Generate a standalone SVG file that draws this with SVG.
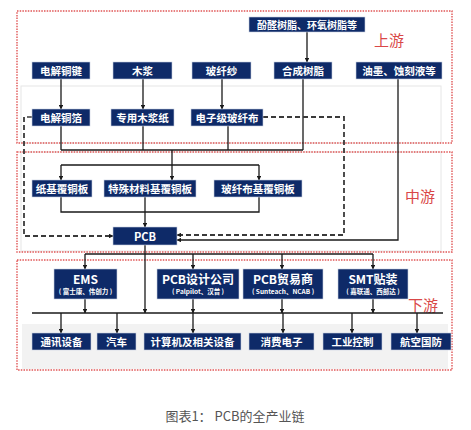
<svg xmlns="http://www.w3.org/2000/svg" width="471" height="430" viewBox="0 0 471 430">
<style>
.frame{fill:none;stroke:#e05555;stroke-width:1.4;stroke-dasharray:1.5 1.2}
.panel{fill:none;stroke:#e6e6e6;stroke-width:1}
.box{fill:#0e2a68;stroke:#c8cfe0;stroke-width:0.6}
.t{font-family:"Noto Sans CJK SC","Noto Sans",sans-serif;font-weight:bold;fill:#fff;text-anchor:middle;dominant-baseline:central;font-size:10.5px}
.t2{font-family:"Noto Sans CJK SC","Noto Sans",sans-serif;font-weight:bold;fill:#fff;text-anchor:middle;font-size:12px}
.s{font-family:"Noto Sans CJK SC","Noto Sans",sans-serif;font-weight:bold;fill:#fff;text-anchor:middle;font-size:6.5px}
.lab{font-family:"Noto Sans CJK SC",sans-serif;fill:#d94848;font-size:15px;text-anchor:middle;dominant-baseline:central}
.ln{fill:none;stroke:#1a1a1a;stroke-width:1.3}
.ar{fill:none;stroke:#1a1a1a;stroke-width:1.3;marker-end:url(#ah)}
.dsh{fill:none;stroke:#3a3a3a;stroke-width:1.8;stroke-dasharray:5 3}
</style>
<defs>
<marker id="ah" viewBox="0 0 10 10" refX="9" refY="5" markerWidth="4.5" markerHeight="4.5" orient="auto" markerUnits="userSpaceOnUse"><path d="M0,0L10,5L0,10z" fill="#1a1a1a"/></marker>
</defs>
<rect x="0" y="0" width="471" height="430" fill="#fff"/>
<rect x="22" y="324" width="426" height="45" fill="#f2f2f2"/>
<g id="frames">
<rect class="panel" x="21" y="86" width="420" height="57"/>
<rect class="panel" x="21" y="152" width="420" height="99"/>
<rect class="frame" x="17" y="11" width="435" height="132"/>
<rect class="frame" x="17" y="152" width="435" height="100"/>
<rect class="frame" x="17" y="260" width="435" height="110"/>
<text class="lab" x="389" y="39">上游</text>
<text class="lab" x="420" y="195">中游</text>
<text class="lab" x="423" y="304">下游</text>
</g>
<g id="connectors">
<path class="ar" d="M61,79V109"/>
<path class="ar" d="M143,79V109"/>
<path class="ar" d="M222,79V109"/>
<path class="ar" d="M307,32V62"/>
<path class="ln" d="M61,126V150M143,126V150M228,126V150M303,79V150M61,150H303M172,150V165M61,165H259"/>
<path class="ar" d="M61,165V180"/>
<path class="ar" d="M172,165V180"/>
<path class="ar" d="M259,165V180"/>
<path class="ln" d="M61,197V212H259V197"/>
<path class="ar" d="M145,197V227"/>
<path class="ar" d="M398,79V240H177"/>
<path class="ln" d="M32,117H27"/>
<path class="dsh" d="M24,117V236H109"/>
<path class="ar" d="M109,236H113"/>
<path class="dsh" d="M263,117H344V235H181"/>
<path class="ar" d="M181,235H177"/>
<path class="ar" d="M145,245V313"/>
<path class="ln" d="M85,254H373"/>
<path class="ar" d="M85,254V269"/>
<path class="ar" d="M193,254V269"/>
<path class="ar" d="M282,254V269"/>
<path class="ar" d="M373,254V269"/>
<path class="ar" d="M85,299V313"/>
<path class="ar" d="M193,299V313"/>
<path class="ar" d="M282,299V313"/>
<path class="ar" d="M373,299V313"/>
<path class="ln" d="M32,313H443" style="stroke-width:1.6"/>
<path class="ar" d="M61,313V333"/>
<path class="ar" d="M117,313V333"/>
<path class="ar" d="M193,313V333"/>
<path class="ar" d="M283,313V333"/>
<path class="ar" d="M352,313V333"/>
<path class="ar" d="M417,313V333"/>
</g>
<g id="n-fenquan"><rect class="box" x="249" y="17" width="116" height="15"/><text class="t" x="307" y="24.5" style="font-size:10px">酚醛树脂、环氧树脂等</text></g>
<g id="n-tongjian"><rect class="box" x="32" y="62" width="58" height="17"/><text class="t" x="61" y="70.5">电解铜键</text></g>
<g id="n-mujiang"><rect class="box" x="113" y="62" width="59" height="17"/><text class="t" x="142.5" y="70.5">木浆</text></g>
<g id="n-boxiansha"><rect class="box" x="192" y="62" width="59" height="17"/><text class="t" x="221.5" y="70.5">玻纤纱</text></g>
<g id="n-hecheng"><rect class="box" x="274" y="62" width="58" height="17"/><text class="t" x="303" y="70.5">合成树脂</text></g>
<g id="n-youmo"><rect class="box" x="356" y="62" width="86" height="17"/><text class="t" x="399" y="70.5">油墨、蚀刻液等</text></g>
<g id="n-tongbo"><rect class="box" x="32" y="109" width="58" height="17"/><text class="t" x="61" y="117.5">电解铜箔</text></g>
<g id="n-mujiangzhi"><rect class="box" x="111" y="109" width="63" height="17"/><text class="t" x="142.5" y="117.5">专用木浆纸</text></g>
<g id="n-boxianbu"><rect class="box" x="191" y="109" width="72" height="17"/><text class="t" x="227" y="117.5">电子级玻纤布</text></g>
<g id="n-zhiji"><rect class="box" x="32" y="180" width="60" height="17"/><text class="t" x="62" y="188.5">纸基覆铜板</text></g>
<g id="n-teshu"><rect class="box" x="104" y="180" width="92" height="17"/><text class="t" x="150" y="188.5">特殊材料基覆铜板</text></g>
<g id="n-boxianji"><rect class="box" x="214" y="180" width="88" height="17"/><text class="t" x="258" y="188.5">玻纤布基覆铜板</text></g>
<g id="n-pcb"><rect class="box" x="113" y="227" width="64" height="18"/><text class="t" x="145" y="236" style="font-size:11px">PCB</text></g>
<g id="n-ems"><rect class="box" x="54" y="269" width="63" height="30"/><text class="t2" x="85.5" y="284">EMS</text><text class="s" x="85.5" y="294">( 富士康、伟创力 )</text></g>
<g id="n-design"><rect class="box" x="157" y="269" width="82" height="30"/><text class="t2" x="198" y="284">PCB设计公司</text><text class="s" x="198" y="294">( Palpilot、汉普 )</text></g>
<g id="n-trade"><rect class="box" x="243" y="269" width="80" height="30"/><text class="t2" x="283" y="284">PCB贸易商</text><text class="s" x="283" y="294">( Sunteach、NCAB )</text></g>
<g id="n-smt"><rect class="box" x="338" y="269" width="70" height="30"/><text class="t2" x="373" y="284">SMT贴装</text><text class="s" x="373" y="294">( 嘉联通、西部达 )</text></g>
<g id="n-tongxun"><rect class="box" x="32" y="333" width="59" height="17"/><text class="t" x="61.5" y="341.5">通讯设备</text></g>
<g id="n-qiche"><rect class="box" x="97" y="333" width="39" height="17"/><text class="t" x="116.5" y="341.5">汽车</text></g>
<g id="n-jisuanji"><rect class="box" x="144" y="333" width="97" height="17"/><text class="t" x="192.5" y="341.5">计算机及相关设备</text></g>
<g id="n-xiaofei"><rect class="box" x="249" y="333" width="65" height="17"/><text class="t" x="281.5" y="341.5">消费电子</text></g>
<g id="n-gongye"><rect class="box" x="323" y="333" width="59" height="17"/><text class="t" x="352.5" y="341.5">工业控制</text></g>
<g id="n-hangkong"><rect class="box" x="391" y="333" width="60" height="17"/><text class="t" x="421" y="341.5">航空国防</text></g>
<text x="235" y="415" font-family="Noto Sans CJK SC, sans-serif" font-size="13" fill="#555" text-anchor="middle" dominant-baseline="central">图表1： PCB的全产业链</text>
</svg>
